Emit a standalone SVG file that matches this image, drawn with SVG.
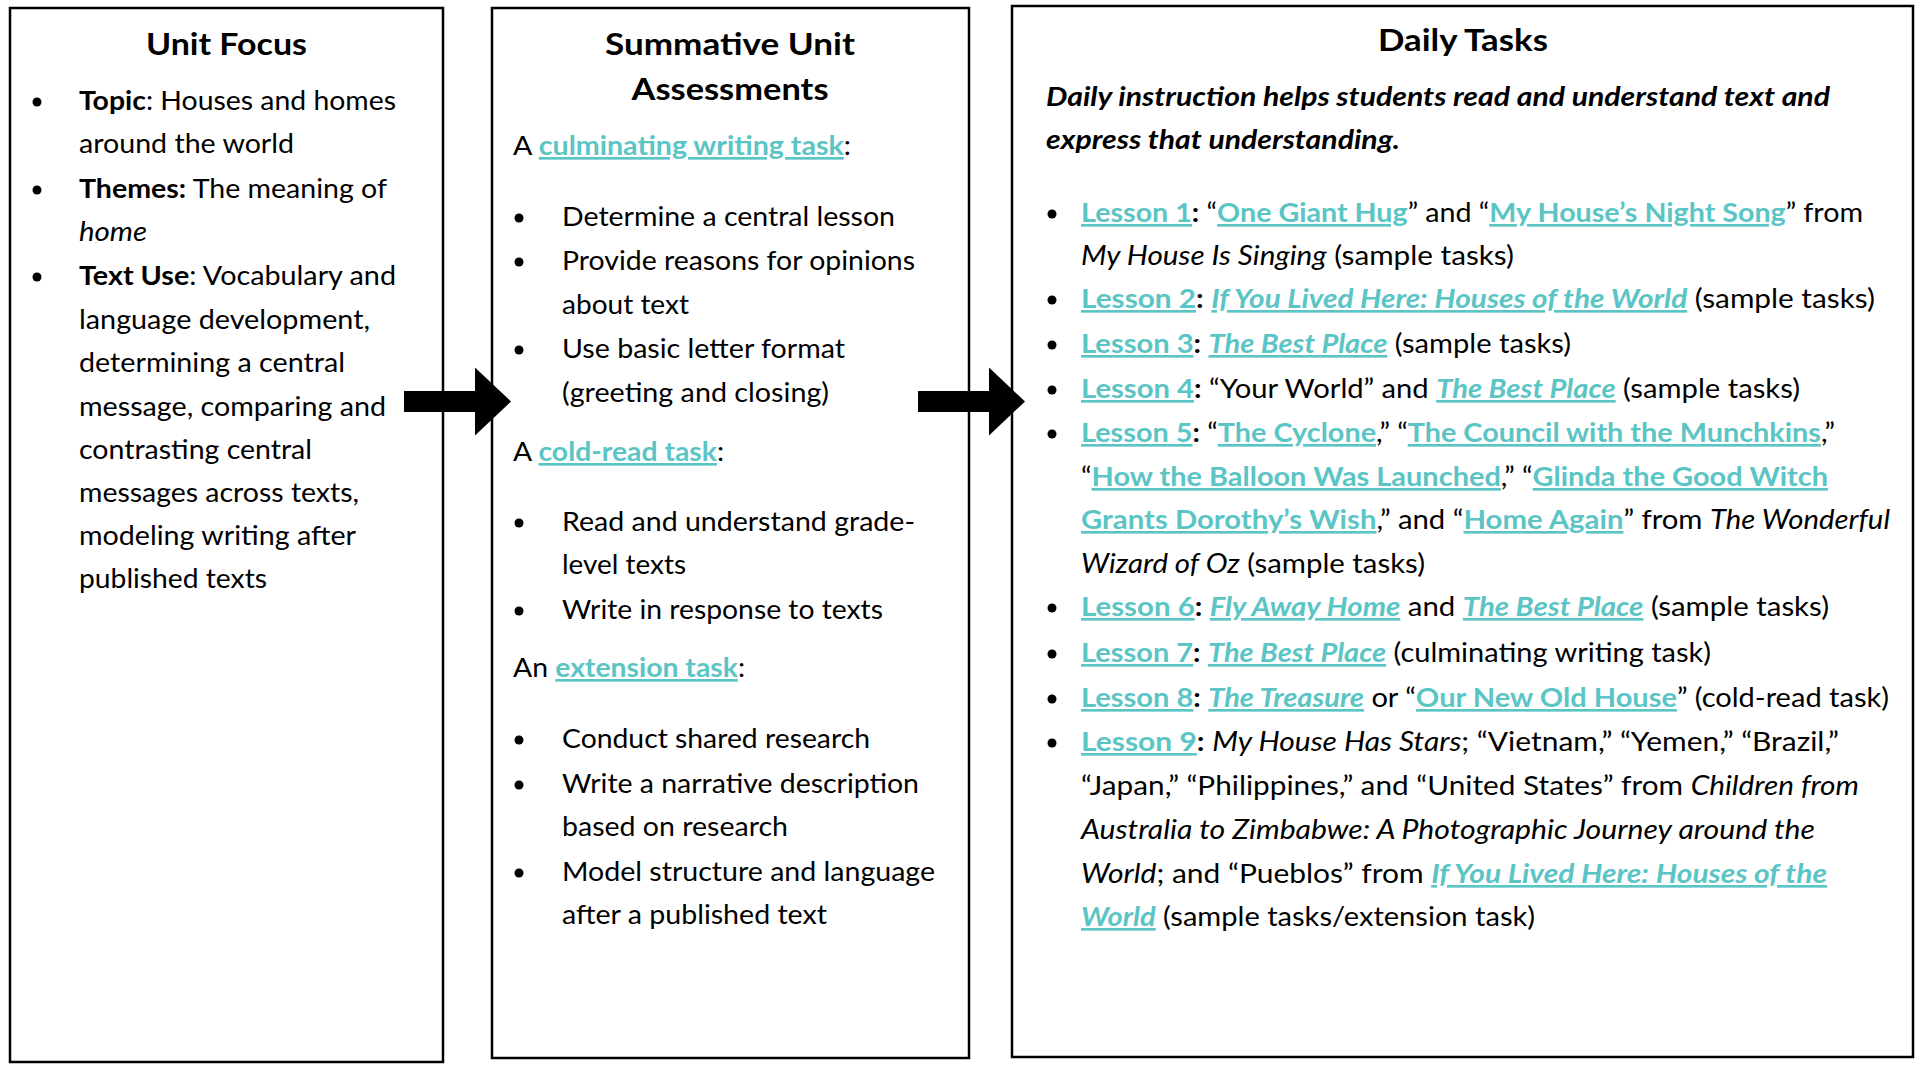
<svg xmlns="http://www.w3.org/2000/svg" width="1919" height="1065" viewBox="0 0 1919 1065">
<defs>
<style>
.box{fill:#fff;stroke:#000;stroke-width:2.5}
text{font-family:Lato,"Liberation Sans",sans-serif;font-size:26.5px;fill:#000}
.t{font-size:30px;font-weight:700;text-anchor:middle}
.b{font-weight:700}
.i{font-style:italic}
.bi{font-weight:700;font-style:italic}
.lk{fill:#5bc4c4;font-weight:700;text-decoration:underline;text-decoration-thickness:2px}
.bul{fill:#000}
.arr{stroke:#000;stroke-width:21;fill:none}
</style>
<marker id="head" markerUnits="userSpaceOnUse" viewBox="0 0 36 68" refX="0" refY="34" markerWidth="36" markerHeight="68" orient="auto">
<path d="M0,0 L36,34 L0,68 Z" fill="#000"/>
</marker>
</defs>
<rect width="1919" height="1065" fill="#fff"/>

<g id="unit-focus">
<rect class="box" x="10" y="8" width="433" height="1054"/>
<text class="t" x="226.5" y="55" textLength="161" lengthAdjust="spacingAndGlyphs">Unit Focus</text>
<circle class="bul" cx="37" cy="102" r="4.5"/>
<circle class="bul" cx="37" cy="190" r="4.5"/>
<circle class="bul" cx="37" cy="277" r="4.5"/>
<text x="79" y="110" textLength="317" lengthAdjust="spacingAndGlyphs"><tspan class="b">Topic</tspan>: Houses and homes</text>
<text x="79" y="153" textLength="215" lengthAdjust="spacingAndGlyphs">around the world</text>
<text x="79" y="198" textLength="308" lengthAdjust="spacingAndGlyphs"><tspan class="b">Themes:</tspan> The meaning of</text>
<text x="79" y="241" textLength="68" lengthAdjust="spacingAndGlyphs" class="i">home</text>
<text x="79" y="285" textLength="317" lengthAdjust="spacingAndGlyphs"><tspan class="b">Text Use</tspan>: Vocabulary and</text>
<text x="79" y="329" textLength="291" lengthAdjust="spacingAndGlyphs">language development,</text>
<text x="79" y="372" textLength="266" lengthAdjust="spacingAndGlyphs">determining a central</text>
<text x="79" y="416" textLength="307" lengthAdjust="spacingAndGlyphs">message, comparing and</text>
<text x="79" y="459" textLength="233" lengthAdjust="spacingAndGlyphs">contrasting central</text>
<text x="79" y="502" textLength="280" lengthAdjust="spacingAndGlyphs">messages across texts,</text>
<text x="79" y="545" textLength="277" lengthAdjust="spacingAndGlyphs">modeling writing after</text>
<text x="79" y="588" textLength="188" lengthAdjust="spacingAndGlyphs">published texts</text>
</g>

<g id="summative-assessments">
<rect class="box" x="492" y="8" width="477" height="1050"/>
<text class="t" x="730" y="55" textLength="250" lengthAdjust="spacingAndGlyphs">Summative Unit</text>
<text class="t" x="730" y="100" textLength="197" lengthAdjust="spacingAndGlyphs">Assessments</text>
<text x="513" y="155" textLength="338" lengthAdjust="spacingAndGlyphs">A <tspan class="lk">culminating writing task</tspan>:</text>
<circle class="bul" cx="519" cy="218" r="4.5"/>
<circle class="bul" cx="519" cy="262" r="4.5"/>
<circle class="bul" cx="519" cy="350" r="4.5"/>
<text x="562" y="226" textLength="333" lengthAdjust="spacingAndGlyphs">Determine a central lesson</text>
<text x="562" y="270" textLength="353" lengthAdjust="spacingAndGlyphs">Provide reasons for opinions</text>
<text x="562" y="314" textLength="127" lengthAdjust="spacingAndGlyphs">about text</text>
<text x="562" y="358" textLength="283" lengthAdjust="spacingAndGlyphs">Use basic letter format</text>
<text x="562" y="402" textLength="267" lengthAdjust="spacingAndGlyphs">(greeting and closing)</text>
<text x="513" y="461" textLength="211" lengthAdjust="spacingAndGlyphs">A <tspan class="lk">cold-read task</tspan>:</text>
<circle class="bul" cx="519" cy="523" r="4.5"/>
<circle class="bul" cx="519" cy="611" r="4.5"/>
<text x="562" y="531" textLength="353" lengthAdjust="spacingAndGlyphs">Read and understand grade-</text>
<text x="562" y="574" textLength="124" lengthAdjust="spacingAndGlyphs">level texts</text>
<text x="562" y="619" textLength="321" lengthAdjust="spacingAndGlyphs">Write in response to texts</text>
<text x="513" y="677" textLength="232" lengthAdjust="spacingAndGlyphs">An <tspan class="lk">extension task</tspan>:</text>
<circle class="bul" cx="519" cy="740" r="4.5"/>
<circle class="bul" cx="519" cy="785" r="4.5"/>
<circle class="bul" cx="519" cy="873" r="4.5"/>
<text x="562" y="748" textLength="308" lengthAdjust="spacingAndGlyphs">Conduct shared research</text>
<text x="562" y="793" textLength="357" lengthAdjust="spacingAndGlyphs">Write a narrative description</text>
<text x="562" y="836" textLength="226" lengthAdjust="spacingAndGlyphs">based on research</text>
<text x="562" y="881" textLength="373" lengthAdjust="spacingAndGlyphs">Model structure and language</text>
<text x="562" y="924" textLength="265" lengthAdjust="spacingAndGlyphs">after a published text</text>
</g>

<g id="daily-tasks">
<rect class="box" x="1012" y="6" width="901" height="1051"/>
<text class="t" x="1463" y="51" textLength="170" lengthAdjust="spacingAndGlyphs">Daily Tasks</text>
<text class="bi" x="1046" y="106" textLength="784" lengthAdjust="spacingAndGlyphs">Daily instruction helps students read and understand text and</text>
<text class="bi" x="1046" y="149" textLength="354" lengthAdjust="spacingAndGlyphs">express that understanding.</text>
<circle class="bul" cx="1052" cy="214" r="4.5"/>
<circle class="bul" cx="1052" cy="300" r="4.5"/>
<circle class="bul" cx="1052" cy="345" r="4.5"/>
<circle class="bul" cx="1052" cy="390" r="4.5"/>
<circle class="bul" cx="1052" cy="434" r="4.5"/>
<circle class="bul" cx="1052" cy="608" r="4.5"/>
<circle class="bul" cx="1052" cy="654" r="4.5"/>
<circle class="bul" cx="1052" cy="699" r="4.5"/>
<circle class="bul" cx="1052" cy="743" r="4.5"/>
<text x="1081" y="222" textLength="782" lengthAdjust="spacingAndGlyphs"><tspan class="lk">Lesson 1</tspan><tspan class="b">:</tspan> “<tspan class="lk">One Giant Hug</tspan>” and “<tspan class="lk">My House’s Night Song</tspan>” from</text>
<text x="1081" y="265" textLength="433" lengthAdjust="spacingAndGlyphs"><tspan class="i">My House Is Singing</tspan> (sample tasks)</text>
<text x="1081" y="308" textLength="794" lengthAdjust="spacingAndGlyphs"><tspan class="lk">Lesson 2</tspan><tspan class="b">:</tspan> <tspan class="lk i">If You Lived Here: Houses of the World</tspan> (sample tasks)</text>
<text x="1081" y="353" textLength="490" lengthAdjust="spacingAndGlyphs"><tspan class="lk">Lesson 3</tspan><tspan class="b">:</tspan> <tspan class="lk i">The Best Place</tspan> (sample tasks)</text>
<text x="1081" y="398" textLength="719" lengthAdjust="spacingAndGlyphs"><tspan class="lk">Lesson 4</tspan><tspan class="b">:</tspan> “Your World” and <tspan class="lk i">The Best Place</tspan> (sample tasks)</text>
<text x="1081" y="442" textLength="754" lengthAdjust="spacingAndGlyphs"><tspan class="lk">Lesson 5</tspan><tspan class="b">:</tspan> “<tspan class="lk">The Cyclone</tspan>,” “<tspan class="lk">The Council with the Munchkins</tspan>,”</text>
<text x="1081" y="486" textLength="747" lengthAdjust="spacingAndGlyphs">“<tspan class="lk">How the Balloon Was Launched</tspan>,” “<tspan class="lk">Glinda the Good Witch</tspan></text>
<text x="1081" y="529" textLength="809" lengthAdjust="spacingAndGlyphs"><tspan class="lk">Grants Dorothy’s Wish</tspan>,” and “<tspan class="lk">Home Again</tspan>” from <tspan class="i">The Wonderful</tspan></text>
<text x="1081" y="573" textLength="344" lengthAdjust="spacingAndGlyphs"><tspan class="i">Wizard of Oz</tspan> (sample tasks)</text>
<text x="1081" y="616" textLength="748" lengthAdjust="spacingAndGlyphs"><tspan class="lk">Lesson 6</tspan><tspan class="b">:</tspan> <tspan class="lk i">Fly Away Home</tspan> and <tspan class="lk i">The Best Place</tspan> (sample tasks)</text>
<text x="1081" y="662" textLength="630" lengthAdjust="spacingAndGlyphs"><tspan class="lk">Lesson 7</tspan><tspan class="b">:</tspan> <tspan class="lk i">The Best Place</tspan> (culminating writing task)</text>
<text x="1081" y="707" textLength="808" lengthAdjust="spacingAndGlyphs"><tspan class="lk">Lesson 8</tspan><tspan class="b">:</tspan> <tspan class="lk i">The Treasure</tspan> or “<tspan class="lk">Our New Old House</tspan>” (cold-read task)</text>
<text x="1081" y="751" textLength="758" lengthAdjust="spacingAndGlyphs"><tspan class="lk">Lesson 9</tspan><tspan class="b">:</tspan> <tspan class="i">My House Has Stars</tspan>; “Vietnam,” “Yemen,” “Brazil,”</text>
<text x="1081" y="795" textLength="778" lengthAdjust="spacingAndGlyphs">“Japan,” “Philippines,” and “United States” from <tspan class="i">Children from</tspan></text>
<text x="1081" y="839" textLength="734" lengthAdjust="spacingAndGlyphs" class="i">Australia to Zimbabwe: A Photographic Journey around the</text>
<text x="1081" y="883" textLength="746" lengthAdjust="spacingAndGlyphs"><tspan class="i">World</tspan>; and “Pueblos” from <tspan class="lk i">If You Lived Here: Houses of the</tspan></text>
<text x="1081" y="926" textLength="454" lengthAdjust="spacingAndGlyphs"><tspan class="lk i">World</tspan> (sample tasks/extension task)</text>
</g>

<g id="connectors">
<line class="arr" x1="404" y1="401.5" x2="475" y2="401.5" marker-end="url(#head)"/>
<line class="arr" x1="918" y1="401.5" x2="989" y2="401.5" marker-end="url(#head)"/>
</g>
</svg>
